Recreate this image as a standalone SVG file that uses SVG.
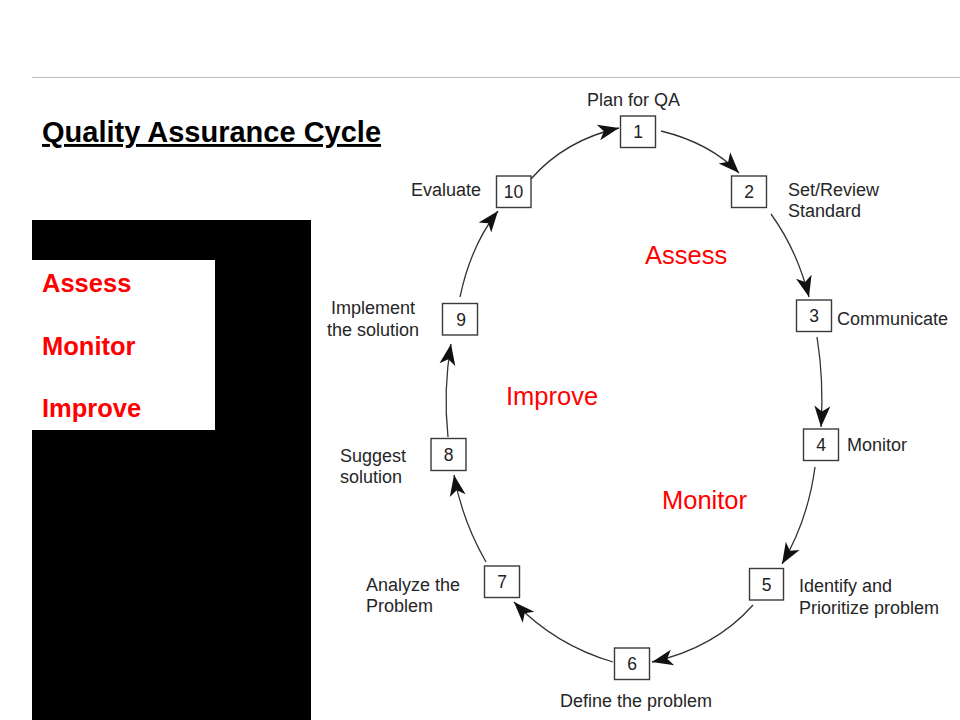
<svg xmlns="http://www.w3.org/2000/svg" width="960" height="720" viewBox="0 0 960 720">
<style>
.box{fill:#fff;stroke:#3a3a3a;stroke-width:1.4}
.num{font-family:"Liberation Sans",Arial,sans-serif;font-size:17.5px;fill:#222;text-anchor:middle}
.lbl{font-family:"Liberation Sans",Arial,sans-serif;font-size:18px;fill:#262626}
.conn{fill:none;stroke:#333;stroke-width:1.3;marker-end:url(#ah)}
.redc{font-family:"Liberation Sans",Arial,sans-serif;font-size:25.5px;fill:#f00}
.redb{font-family:"Liberation Sans",Arial,sans-serif;font-size:25.5px;font-weight:bold;fill:#f00}
</style>
<defs>
<marker id="ah" markerUnits="userSpaceOnUse" markerWidth="26" markerHeight="20" refX="21" refY="8" orient="auto" overflow="visible">
<path d="M0,0 L21,8 L0,16 L5.5,8 Z" fill="#111"/>
</marker>
</defs>
<rect x="0" y="0" width="960" height="720" fill="#fff"/>
<line x1="32" y1="77.5" x2="960" y2="77.5" stroke="#bdbdbd" stroke-width="1.2"/>
<text x="42" y="142" font-family="Liberation Sans, Arial, sans-serif" font-size="29" font-weight="bold" fill="#000" text-decoration="underline">Quality Assurance Cycle</text>
<g id="legend">
<rect x="32" y="220" width="279" height="500" fill="#000"/>
<rect x="32" y="260" width="183" height="170" fill="#fff"/>
<text class="redb" x="42" y="292">Assess</text>
<text class="redb" x="42" y="355">Monitor</text>
<text class="redb" x="42" y="417">Improve</text>
</g>
<g id="phases">
<text class="redc" x="645" y="264">Assess</text>
<text class="redc" x="506" y="405">Improve</text>
<text class="redc" x="662" y="509">Monitor</text>
</g>
<g id="connectors">
<path class="conn" d="M531,179 Q565,140 619,128"/>
<path class="conn" d="M661,131 Q710,143 739,173"/>
<path class="conn" d="M771,214 Q797,250 809,297"/>
<path class="conn" d="M817,337 Q824,380 821,427"/>
<path class="conn" d="M815,467 Q808,520 782,564"/>
<path class="conn" d="M753,605 Q715,648 652,662"/>
<path class="conn" d="M613,662 Q555,645 514,602"/>
<path class="conn" d="M486,562 Q462,520 454,475"/>
<path class="conn" d="M448,437 Q443,390 451,344"/>
<path class="conn" d="M460,297 Q471,245 498,211"/>
</g>
<g id="node1">
<rect class="box" x="620.5" y="116" width="35" height="31.5"/>
<text class="num" x="638" y="138">1</text>
<text class="lbl" x="587" y="106">Plan for QA</text>
</g>
<g id="node2">
<rect class="box" x="731.5" y="176" width="35" height="31.5"/>
<text class="num" x="749" y="198">2</text>
<text class="lbl" x="788" y="196">Set/Review</text>
<text class="lbl" x="788" y="217">Standard</text>
</g>
<g id="node3">
<rect class="box" x="796.5" y="300" width="35" height="31.5"/>
<text class="num" x="814" y="322">3</text>
<text class="lbl" x="837" y="325">Communicate</text>
</g>
<g id="node4">
<rect class="box" x="803.5" y="429" width="35" height="31.5"/>
<text class="num" x="821" y="451">4</text>
<text class="lbl" x="847" y="451">Monitor</text>
</g>
<g id="node5">
<rect class="box" x="749.5" y="568.5" width="34" height="31.5"/>
<text class="num" x="766.5" y="590.5">5</text>
<text class="lbl" x="799" y="592">Identify and</text>
<text class="lbl" x="799" y="614">Prioritize problem</text>
</g>
<g id="node6">
<rect class="box" x="614.5" y="648" width="35" height="31.5"/>
<text class="num" x="632" y="670">6</text>
<text class="lbl" x="636" y="707" text-anchor="middle">Define the problem</text>
</g>
<g id="node7">
<rect class="box" x="484.5" y="566" width="35" height="31.5"/>
<text class="num" x="502" y="588">7</text>
<text class="lbl" x="366" y="591">Analyze the</text>
<text class="lbl" x="366" y="612">Problem</text>
</g>
<g id="node8">
<rect class="box" x="431" y="438.5" width="35" height="32"/>
<text class="num" x="448.5" y="461">8</text>
<text class="lbl" x="340" y="462">Suggest</text>
<text class="lbl" x="340" y="483">solution</text>
</g>
<g id="node9">
<rect class="box" x="442.5" y="303.5" width="35" height="31.5"/>
<text class="num" x="461" y="326">9</text>
<text class="lbl" x="373" y="314" text-anchor="middle">Implement</text>
<text class="lbl" x="373" y="335.5" text-anchor="middle">the solution</text>
</g>
<g id="node10">
<rect class="box" x="496.5" y="176" width="34.5" height="31.5"/>
<text class="num" x="513.5" y="198">10</text>
<text class="lbl" x="411" y="196">Evaluate</text>
</g>
</svg>
